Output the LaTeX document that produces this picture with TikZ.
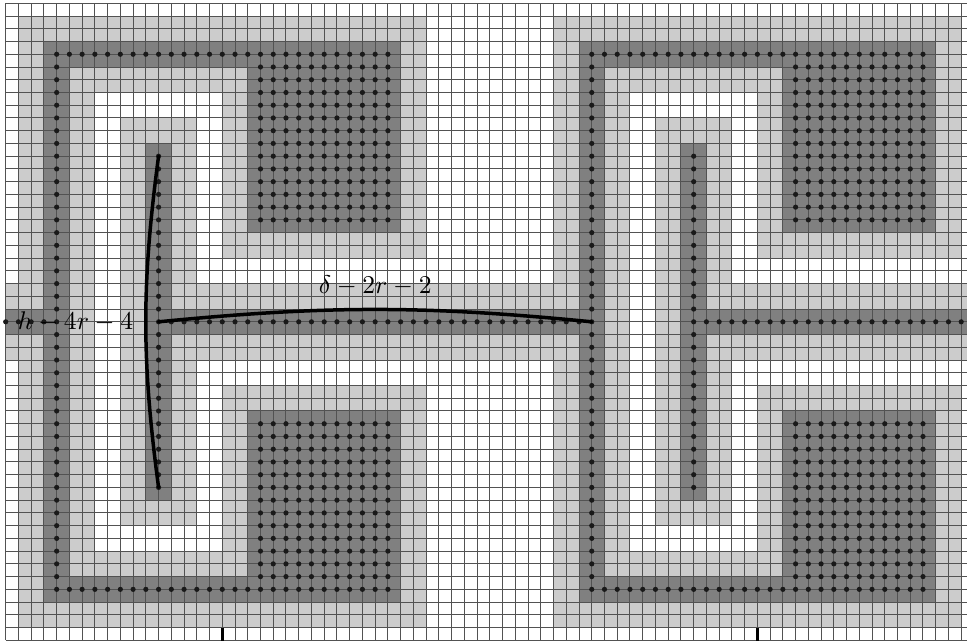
\documentclass[tikz,border=0pt]{standalone}
\usepackage{amsmath}
\tikzset{
  light/.style={fill=black!20},
  dark/.style={fill=black!50},
  gridline/.style={line width=1pt,black!68},
  dotmark/.style={fill=black!90},
  arcline/.style={line width=3.5pt,black,line cap=round},
  tickline/.style={line width=3pt,black},
  mathlabel/.style={inner sep=0pt,scale=2.56,anchor=base}
}
\begin{document}
\begin{tikzpicture}[x=12.74pt,y=-12.74pt]
\useasboundingbox (-0.4474,-0.259) rectangle (75.455,50.055);
% one period of the structure, shifted by 42 columns
\foreach \s in {0,42}{
  \begin{scope}[xshift={\s*12.74pt}]
    \fill[light] (1,1) rectangle (33,49);
    % white channel
    \fill[white] (7,7) rectangle (9,43);
    \fill[white] (7,7) rectangle (17,9);
    \fill[white] (7,41) rectangle (17,43);
    \fill[white] (15,7) rectangle (17,20);
    \fill[white] (15,30) rectangle (17,43);
    \fill[white] (15,20) rectangle (33,22);
    \fill[white] (15,28) rectangle (33,30);
    % dark frame and blocks
    \fill[dark] (3,3) rectangle (19,5);
    \fill[dark] (3,3) rectangle (5,47);
    \fill[dark] (3,45) rectangle (19,47);
    \fill[dark] (19,3) rectangle (31,18);
    \fill[dark] (19,32) rectangle (31,47);
    \fill[dark] (11,11) rectangle (13,39);
  \end{scope}
}
% horizontal bands
\fill[light] (0,22) rectangle (1,28);
\fill[dark] (0,24) rectangle (3,26);
\fill[light] (13,22) rectangle (45,28);
\fill[dark] (13,24) rectangle (45,26);
\fill[light] (55,22) rectangle (75.455,28);
\fill[dark] (55,24) rectangle (75.455,26);
% grid
\begin{scope}
  \clip (-0.04,-0.04) rectangle (75.455,50.04);
  \foreach \i in {0,...,75}{\draw[gridline] (\i,0) -- (\i,50);}
  \foreach \j in {0,...,50}{\draw[gridline] (0,\j) -- (75.455,\j);}
\end{scope}
% dots
\foreach \s in {0,42}{
  \begin{scope}[xshift={\s*12.74pt}]
    \foreach \j in {4,...,46}{\fill[dotmark] (4,\j) circle (2.6pt);}
    \foreach \i in {5,...,19}{\fill[dotmark] (\i,4) circle (2.6pt);\fill[dotmark] (\i,46) circle (2.6pt);}
    \foreach \i in {20,...,30}{
      \foreach \j in {4,...,17}{\fill[dotmark] (\i,\j) circle (2.6pt);}
      \foreach \j in {33,...,46}{\fill[dotmark] (\i,\j) circle (2.6pt);}
    }
    \foreach \j in {12,...,38}{\fill[dotmark] (12,\j) circle (2.6pt);}
  \end{scope}
}
\foreach \i in {0,...,3}{\fill[dotmark] (\i,25) circle (2.6pt);}
\foreach \i in {13,...,45}{\fill[dotmark] (\i,25) circle (2.6pt);}
\foreach \i in {55,...,75}{\fill[dotmark] (\i,25) circle (2.6pt);}
% named ends
\coordinate (topc) at (12,12);
\coordinate (botc) at (12,38);
\coordinate (midc) at (12,25);
\coordinate (wall) at (46,25);
\coordinate (tickA) at (17,49);
\coordinate (tickAe) at (17,50.055);
\coordinate (tickB) at (59,49);
\coordinate (tickBe) at (59,50.055);
% arcs
\draw[arcline] (topc) to[bend right=7.6] (botc);
\draw[arcline] (midc) to[bend left=5.6] (wall);
% ticks
\draw[tickline] (tickA) -- (tickAe);
\draw[tickline] (tickB) -- (tickBe);
% labels
\node[mathlabel] (lenA) at (5.48,25.64) {$h-4r-4$};
\node[mathlabel] (lenB) at (29,22.8) {$\delta-2r-2$};
\end{tikzpicture}
\end{document}
